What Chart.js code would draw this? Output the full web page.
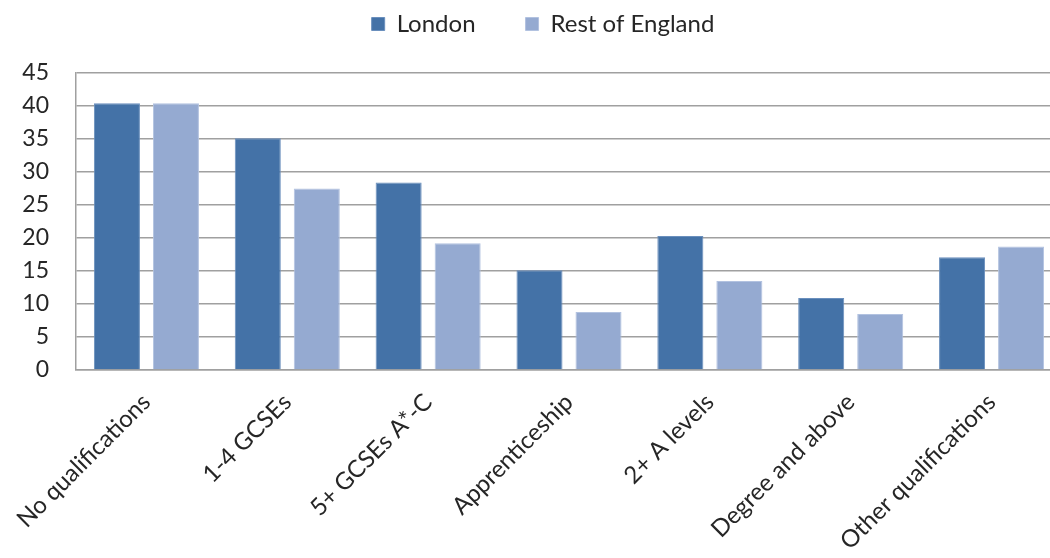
<!DOCTYPE html>
<html lang="en">
<head>
  <meta charset="UTF-8">
  <title>Qualifications – London vs Rest of England</title>
  <style>
    html, body {
      margin: 0;
      background: #fff;
    }
    /* the original plot runs a little past the right edge of the image */
    .wrap {
      width: 1050px;
      height: 558px;
      overflow: hidden;
    }
  </style>
</head>
<body>
  <div class="wrap">
    <canvas id="chart" width="1062" height="558"></canvas>
  </div>
  <script src="https://cdn.jsdelivr.net/npm/chart.js"></script>
  <script>
    // Data
    const categories = [
      "No qualifications", "1-4 GCSEs", "5+ GCSEs A*-C", "Apprenticeship",
      "2+ A levels", "Degree and above", "Other qualifications"
    ];
    const london = [40.4, 35.1, 28.4, 15.1, 20.3, 10.9, 17.1];
    const restOfEngland = [40.4, 27.5, 19.2, 8.8, 13.5, 8.5, 18.7];
    const yTicks = [0, 5, 10, 15, 20, 25, 30, 35, 40, 45];

    const FONT = "Lato, 'Open Sans', sans-serif";
    const gridColor = "#a0a0a0";
    const textColor = "#262626";
    const TOP_PAD = -38;

    // legend padding also sets the gap between items; this stretches the
    // legend box so the plot starts lower, and nudges the row a bit right
    const legendBottom = {
      id: "legendBottom",
      beforeLayout(chart) {
        const lg = chart.legend;
        if (!lg || lg._patched) return;
        const fit = lg.fit;
        lg.fit = function () {
          fit.call(this);
          if (this.isHorizontal()) {
            this.height = 73 - TOP_PAD;
            this.lineWidths = this.lineWidths.map(w => w - 24);
          }
        };
        lg._patched = true;
      }
    };

    new Chart(document.getElementById("chart"), {
      type: "bar",
      data: {
        labels: categories,
        datasets: [
          {
            label: "London",
            data: london,
            backgroundColor: "#4472a7",
            borderColor: "#6a8fbd",
            borderWidth: 1
          },
          {
            label: "Rest of England",
            data: restOfEngland,
            backgroundColor: "#95aad1",
            borderColor: "#b2c2e0",
            borderWidth: 1
          }
        ]
      },
      plugins: [legendBottom],
      options: {
        responsive: false,
        animation: false,
        layout: { padding: { top: TOP_PAD, right: 0, left: 0, bottom: 0 } },
        datasets: {
          bar: { categoryPercentage: 0.838, barPercentage: 0.78 }
        },
        plugins: {
          tooltip: { enabled: false },
          legend: {
            position: "top",
            labels: {
              font: { family: FONT, size: 24 },
              color: textColor,
              boxWidth: 13,
              boxHeight: 13,
              padding: 50
            }
          }
        },
        scales: {
          x: {
            grid: { display: false, drawTicks: false },
            border: { color: gridColor, width: 1.5 },
            ticks: {
              font: { family: FONT, size: 24 },
              color: textColor,
              minRotation: 45,
              maxRotation: 45,
              padding: 18
            },
            afterFit: (s) => {
              s.height = 188;
              s.paddingLeft = 0;
              s.paddingRight = 0;
            }
          },
          y: {
            min: 0,
            max: 45,
            afterBuildTicks: (s) => { s.ticks = yTicks.map(v => ({ value: v })); },
            grid: { color: gridColor, lineWidth: 1.5, drawTicks: false },
            border: { color: gridColor, width: 1.5 },
            ticks: {
              font: { family: FONT, size: 23 },
              color: textColor,
              padding: 27
            },
            afterFit: (s) => { s.width = 76; }
          }
        }
      }
    });
  </script>
</body>
</html>
